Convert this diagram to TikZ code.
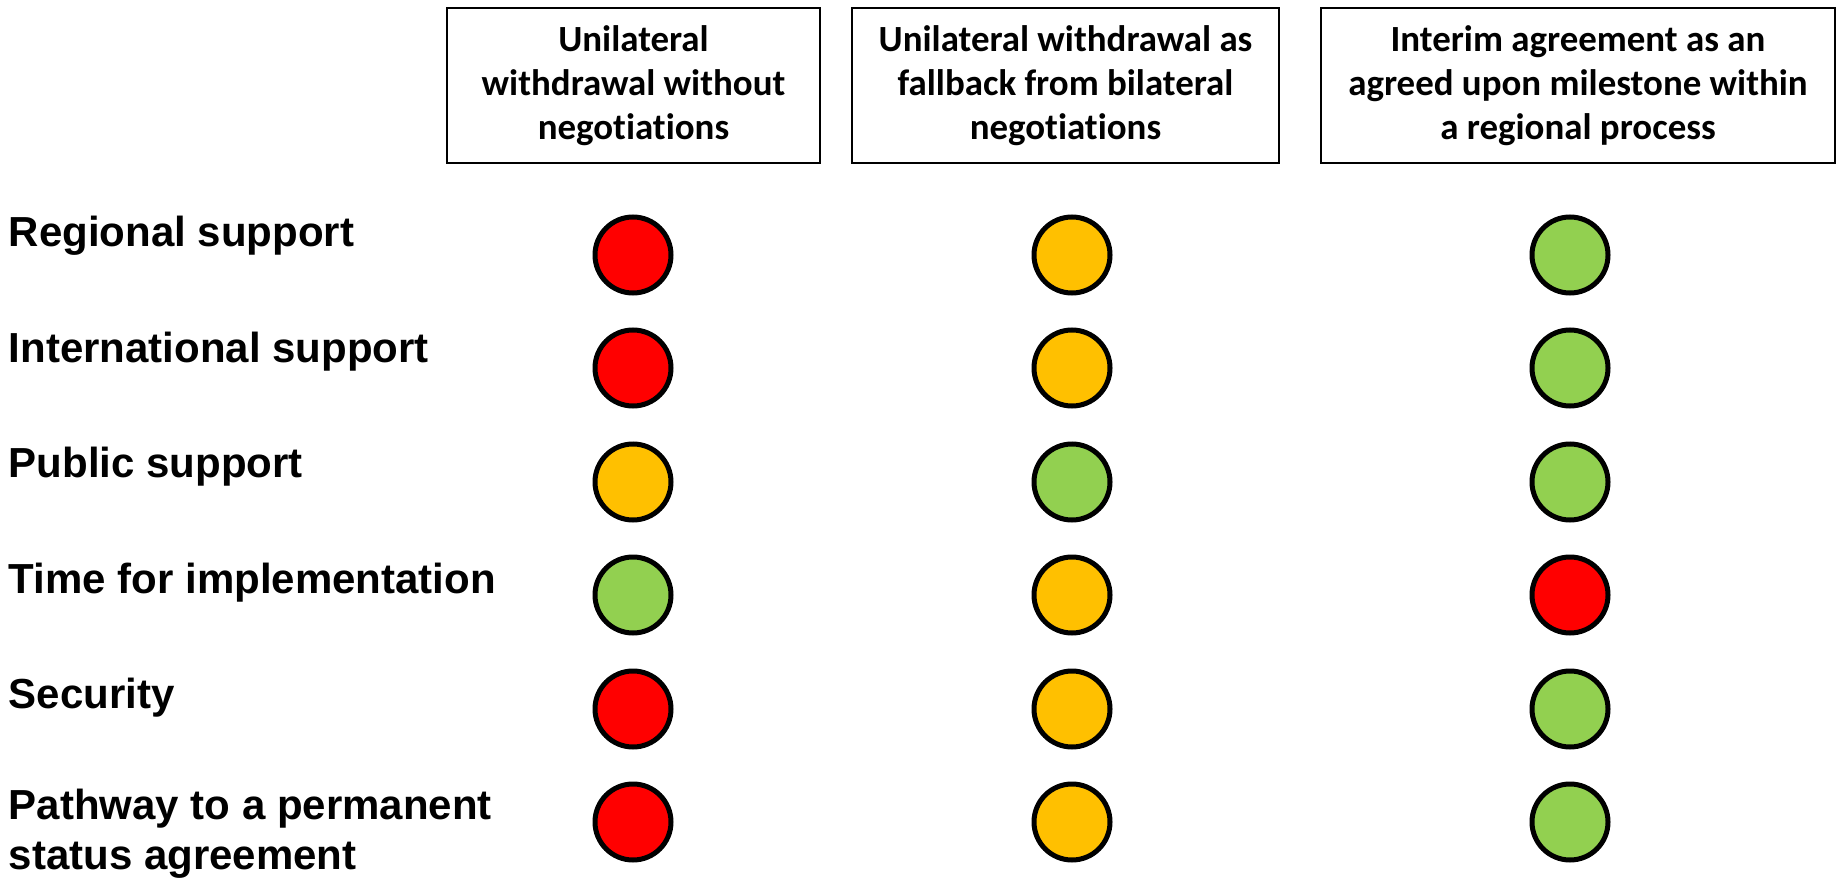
\documentclass[tikz,border=0pt]{standalone}
\usepackage{fontspec}
\setmainfont{Liberation Sans}
\newfontfamily\hdfont[Ligatures=NoCommon]{Carlito}
\usepackage{tikz}

\definecolor{badred}{HTML}{FF0000}
\definecolor{midamber}{HTML}{FFC000}
\definecolor{goodgreen}{HTML}{92D050}

\tikzset{
  optbox/.style={draw,line width=0.8pt,align=center,inner sep=0pt,
    font=\hdfont\bfseries\fontsize{21pt}{25pt}\selectfont},
  critlabel/.style={anchor=base west,inner sep=0pt,align=left,
    font=\bfseries\fontsize{23.9pt}{27.9pt}\selectfont},
  dot/.style={circle,draw,line width=0.1cm,minimum size=1.52cm,inner sep=0pt},
  red dot/.style={dot,fill=badred},
  amber dot/.style={dot,fill=midamber},
  green dot/.style={dot,fill=goodgreen}
}

\begin{document}
\begin{tikzpicture}
\useasboundingbox (0,0) rectangle (36.74,-17.58);

\node[optbox,minimum width=7.46cm,minimum height=3.1cm] (optA) at (12.67,-1.71) {Unilateral\\withdrawal without\\negotiations};
\node[optbox,minimum width=8.54cm,minimum height=3.1cm] (optB) at (21.31,-1.71) {Unilateral withdrawal as\\fallback from bilateral\\negotiations};
\node[optbox,minimum width=10.28cm,minimum height=3.1cm] (optC) at (31.56,-1.71) {Interim agreement as an\\agreed upon milestone within\\a regional process};

\node[critlabel] (regional) at (0.17,-4.92) {Regional support};
\node[critlabel] (intl) at (0.17,-7.24) {International support};
\node[critlabel] (public) at (0.17,-9.54) {Public support};
\node[critlabel] (time) at (0.17,-11.86) {Time for implementation};
\node[critlabel] (security) at (0.17,-14.16) {Security};
% base of a two-line node is its last line
\node[critlabel] (pathway) at (0.17,-17.38) {Pathway to a permanent\\status agreement};

% column A
\node[red dot] (regA) at (12.66,-5.1) {};
\node[red dot] (intA) at (12.66,-7.36) {};
\node[amber dot] (pubA) at (12.66,-9.64) {};
\node[green dot] (timA) at (12.66,-11.9) {};
\node[red dot] (secA) at (12.66,-14.18) {};
\node[red dot] (patA) at (12.66,-16.44) {};

% column B
\node[amber dot] (regB) at (21.44,-5.1) {};
\node[amber dot] (intB) at (21.44,-7.36) {};
\node[green dot] (pubB) at (21.44,-9.64) {};
\node[amber dot] (timB) at (21.44,-11.9) {};
\node[amber dot] (secB) at (21.44,-14.18) {};
\node[amber dot] (patB) at (21.44,-16.44) {};

% column C
\node[green dot] (regC) at (31.4,-5.1) {};
\node[green dot] (intC) at (31.4,-7.36) {};
\node[green dot] (pubC) at (31.4,-9.64) {};
\node[red dot] (timC) at (31.4,-11.9) {};
\node[green dot] (secC) at (31.4,-14.18) {};
\node[green dot] (patC) at (31.4,-16.44) {};
\end{tikzpicture}
\end{document}
